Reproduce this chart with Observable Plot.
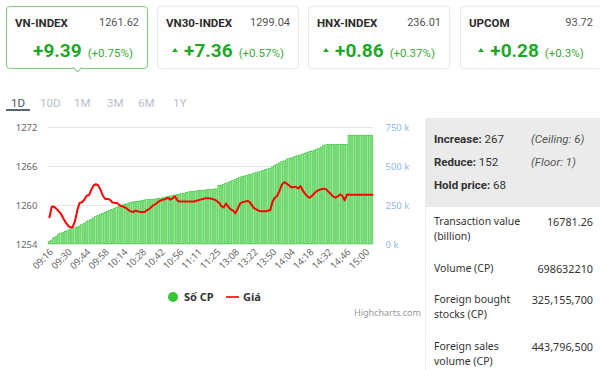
<!DOCTYPE html>
<html><head><meta charset="utf-8">
<script src="https://cdn.jsdelivr.net/npm/d3@7"></script>
<script src="https://cdn.jsdelivr.net/npm/@observablehq/plot@0.6"></script>
<style>
body{margin:0;background:#fff;font-family:Roboto,"Noto Sans",sans-serif;}
#root{position:relative;width:600px;height:370px;overflow:hidden;background:#fff;}
.abs{position:absolute;white-space:nowrap;}
.card{position:absolute;top:6px;width:140px;height:61px;border:1px solid #ebebeb;border-radius:4px;background:#fff;box-shadow:0 0 2px rgba(0,0,0,0.06);}
.card.sel{border-color:#7fd07f;}
.card .nm{position:absolute;left:8px;top:9px;font-size:11.5px;line-height:14px;font-weight:700;color:#2b2b2b;}
.card .vl{position:absolute;right:8px;top:9px;font-size:11px;line-height:14px;color:#555;}
.card .row{position:absolute;left:0;right:0;top:33px;display:flex;justify-content:center;align-items:baseline;line-height:22px;}
.card .arr{display:inline-block;width:0;height:0;border-left:3px solid transparent;border-right:3px solid transparent;border-bottom:4px solid #22aa2a;margin-right:6px;position:relative;top:-5px;}
.card .chg{font-size:19px;font-weight:700;color:#1ea828;margin-right:6px;}
.card .pct{font-size:11.5px;color:#3aaa3a;}
.ptr{position:absolute;left:67px;top:57px;width:6px;height:6px;background:#fff;border-right:1px solid #7fd07f;border-bottom:1px solid #7fd07f;transform:rotate(45deg);}
.tab{position:absolute;top:96px;font-size:11.5px;line-height:14px;color:#b9c0cc;}
.tab.on{color:#4c5566;}
.panel{position:absolute;left:425px;top:118px;width:175px;height:89px;background:#ebebeb;}
.pl{position:absolute;font-size:11.5px;line-height:14px;color:#333;font-family:Roboto,sans-serif;white-space:nowrap;}
.pl b{font-weight:700;}
.pi{position:absolute;font-size:11.5px;line-height:14px;color:#555;font-style:italic;white-space:nowrap;}
.ll{position:absolute;left:434px;font-size:10.5px;line-height:15px;color:#333;font-family:"Noto Sans",sans-serif;white-space:nowrap;}
.lv{position:absolute;right:7px;font-size:10.8px;line-height:15px;color:#333;font-family:"Noto Sans",sans-serif;white-space:nowrap;text-align:right;}
#chart svg{position:absolute;left:0;top:0;}
</style>
</head><body>
<div id="root">
  <div id="cards"></div>
  <div id="tabs"></div>
  <div id="chart" class="abs" style="left:0;top:115px;width:420px;height:175px;"></div>
  <div id="legend"></div>
  <div class="panel"></div>
  <div class="abs" style="left:425px;top:207px;width:1px;height:163px;background:#efefef;"></div>
  <div id="stats"></div>
</div>
<script>
// ---- index cards ----
const indexNames = ["VN-INDEX", "VN30-INDEX", "HNX-INDEX", "UPCOM"];
const indexValues = ["1261.62", "1299.04", "236.01", "93.72"];
const indexChanges = ["+9.39", "+7.36", "+0.86", "+0.28"];
const indexPercents = ["(+0.75%)", "(+0.57%)", "(+0.37%)", "(+0.3%)"];

// ---- period tabs ----
const periods = ["1D", "10D", "1M", "3M", "6M", "1Y"];

// ---- intraday chart: x tick labels (one every 8 points) ----
const timeLabels = ["09:16","09:30","09:44","09:58","10:14","10:28","10:42","10:56","11:11",
  "11:25","13:08","13:22","13:36","13:50","14:04","14:18","14:32","14:46","15:00"];
// cumulative traded volume (thousand shares)
const volume = [15,25,40,50,62,70,76,82,87,92,98,104,110,116,124,133,142,150,158,167,
  175,183,191,197,204,210,216,222,229,235,241,246,252,257,262,266,270,272,274,276,
  279,282,285,286,287,288,290,292,294,297,301,304,308,311,314,317,320,323,326,330,
  334,336,338,340,342,343,345,346,348,350,351,353,354,374,377,382,388,394,400,406,
  413,420,427,432,436,440,444,448,452,457,462,467,472,476,481,486,494,503,512,520,
  527,533,540,547,552,557,562,567,571,576,581,586,592,597,602,607,612,622,632,636,
  639,639,639,639,639,639,639,639,639,698,698,698,698,698,698,698,698,698,698,698];
// index price
const price = [1258.2,1259.8,1259.8,1259.5,1259.1,1258.7,1258.0,1257.4,1256.9,1256.6,
  1256.7,1257.6,1259.3,1260.4,1260.5,1260.9,1261.5,1261.6,1262.4,1263.1,
  1263.3,1263.1,1262.4,1261.5,1261.0,1261.0,1260.9,1260.5,1260.4,1260.4,
  1260.1,1259.9,1259.8,1259.6,1259.3,1259.1,1259.0,1259.2,1259.1,1259.0,
  1259.0,1259.0,1259.3,1259.5,1259.8,1260.1,1260.3,1260.6,1260.8,1260.9,
  1261.0,1261.2,1260.9,1261.1,1261.4,1260.8,1260.6,1260.6,1260.6,1260.6,
  1260.6,1260.6,1260.6,1260.7,1260.8,1260.9,1261.0,1261.1,1261.1,1261.1,
  1261.0,1260.9,1260.7,1260.4,1259.9,1259.7,1260.3,1259.8,1259.4,1259.2,
  1258.8,1259.5,1260.3,1260.5,1260.6,1260.7,1260.6,1260.1,1259.6,1259.4,
  1259.2,1259.1,1259.1,1259.1,1259.2,1259.3,1260.6,1261.2,1261.5,1262.3,
  1263.2,1263.6,1263.4,1263.1,1262.8,1262.8,1262.9,1262.6,1263.0,1262.3,
  1261.8,1261.4,1261.2,1261.5,1261.9,1262.2,1262.4,1262.5,1262.6,1262.5,
  1262.1,1261.8,1261.4,1261.2,1261.4,1261.7,1261.5,1260.8,1261.7,1261.65,
  1261.65,1261.65,1261.65,1261.65,1261.65,1261.65,1261.65,1261.65,1261.65,1261.65];
const priceTicks = [1254, 1260, 1266, 1272];
const volumeTicks = [0, 250, 500, 750];
const legendNames = ["Số CP", "Giá"];

// ---- market breadth ----
const breadthLabels = ["Increase:", "Reduce:", "Hold price:"];
const breadthValues = [267, 152, 68];
const breadthNotes = ["(Ceiling: 6)", "(Floor: 1)", ""];
const statLabels = [["Transaction value", "(billion)"], ["Volume (CP)"], ["Foreign bought", "stocks (CP)"], ["Foreign sales", "volume (CP)"]];
const statValues = ["16781.26", "698632210", "325,155,700", "443,796,500"];

// ===== build cards =====
const cardLefts = [6, 157, 308, 460];
const cards = document.getElementById("cards");
indexNames.forEach((n, k) => {
  const c = document.createElement("div");
  c.className = "card" + (k === 0 ? " sel" : "");
  c.style.left = cardLefts[k] + "px";
  c.innerHTML = `<div class="nm">${n}</div><div class="vl">${indexValues[k]}</div>
    <div class="row"><span class="arr" style="visibility:${k === 0 ? "hidden" : "visible"}"></span><span class="chg">${indexChanges[k]}</span><span class="pct">${indexPercents[k]}</span></div>`;
  if (k === 0) { const p = document.createElement("div"); p.className = "ptr"; c.appendChild(p); }
  cards.appendChild(c);
});

// ===== tabs =====
const tabLefts = [11, 40, 74, 107, 138, 173];
const tabs = document.getElementById("tabs");
periods.forEach((p, k) => {
  const t = document.createElement("div");
  t.className = "tab" + (k === 0 ? " on" : "");
  t.style.left = tabLefts[k] + "px";
  t.textContent = p;
  tabs.appendChild(t);
});
const ul = document.createElement("div");
ul.className = "abs";
Object.assign(ul.style, {left: "6px", top: "109px", width: "24px", height: "2px", background: "#5a6478"});
tabs.appendChild(ul);

// ===== chart =====
const labels = timeLabels.filter(t => t !== "13:36");
const data = volume.map((v, i) => ({i, vol: v, price: price[i]}));
const tickIdx = labels.map((_, k) => 1 + k * 8);
const tickText = new Map(tickIdx.map((t, k) => [t, labels[k]]));
const common = {
  width: 420, height: 175,
  marginLeft: 48, marginRight: 47, marginTop: 12, marginBottom: 46,
  style: {fontFamily: "'Noto Sans', sans-serif", fontSize: "9.5px", background: "transparent", overflow: "visible"},
  x: {type: "band", domain: data.map(d => d.i), paddingInner: 0.28, paddingOuter: 0.05, axis: null}
};
const barsPlot = Plot.plot({
  ...common,
  y: {domain: [0, 750], axis: null},
  marks: [
    Plot.gridY(volumeTicks.slice(1), {stroke: "#e6e6e6", strokeOpacity: 1}),
    Plot.barY(data, {x: "i", y: "vol", fill: "#9be89b", stroke: "#2cc22c", strokeWidth: 0.5}),
    Plot.axisY({anchor: "right", ticks: volumeTicks, tickSize: 0, tickPadding: 12, color: "#8db8ea", label: null, tickFormat: d => d + " k"})
  ]
});
const linePlot = Plot.plot({
  ...common,
  y: {domain: [1254, 1272], axis: null},
  marks: [
    Plot.axisY({anchor: "left", ticks: priceTicks, tickSize: 0, tickPadding: 11, color: "#666", label: null, tickFormat: d => String(d)}),
    Plot.axisX({ticks: tickIdx, tickFormat: t => tickText.get(t), tickRotate: -45, tickSize: 0, tickPadding: 6, color: "#666", label: null}),
    Plot.lineY(data, {x: "i", y: "price", stroke: "#f00", strokeWidth: 2})
  ]
});
const chart = document.getElementById("chart");
chart.appendChild(barsPlot);
chart.appendChild(linePlot);

// ===== legend =====
const legend = document.getElementById("legend");
legend.innerHTML = `
  <div class="abs" style="left:168px;top:292px;width:10px;height:10px;border-radius:50%;background:#35c535;"></div>
  <div class="abs" style="left:184px;top:290px;font-size:11px;line-height:14px;font-weight:700;color:#333;font-family:'Noto Sans',sans-serif;">${legendNames[0]}</div>
  <div class="abs" style="left:226px;top:296px;width:13px;height:2px;background:#f33;"></div>
  <div class="abs" style="left:243px;top:290px;font-size:11px;line-height:14px;font-weight:700;color:#333;font-family:'Noto Sans',sans-serif;">${legendNames[1]}</div>
  <div class="abs" style="left:354px;top:307px;font-size:9px;line-height:12px;color:#999;font-family:'Noto Sans',sans-serif;">Highcharts.com</div>`;

// ===== stats =====
const stats = document.getElementById("stats");
const rowTops = [132, 155, 178];
breadthLabels.forEach((l, k) => {
  const d = document.createElement("div");
  d.className = "pl"; d.style.left = "434px"; d.style.top = rowTops[k] + "px";
  d.innerHTML = `<b>${l}</b> ${breadthValues[k]}`;
  stats.appendChild(d);
  if (breadthNotes[k]) {
    const n = document.createElement("div");
    n.className = "pi"; n.style.left = "531px"; n.style.top = rowTops[k] + "px";
    n.textContent = breadthNotes[k];
    stats.appendChild(n);
  }
});
const statTops = [214, 261, 292, 339];
statLabels.forEach((lines, k) => {
  lines.forEach((t, j) => {
    const d = document.createElement("div");
    d.className = "ll"; d.style.top = (statTops[k] + j * 15) + "px";
    d.textContent = t;
    stats.appendChild(d);
  });
  const v = document.createElement("div");
  v.className = "lv"; v.style.top = statTops[k] + "px";
  v.textContent = statValues[k];
  stats.appendChild(v);
});
</script>
</body></html>
